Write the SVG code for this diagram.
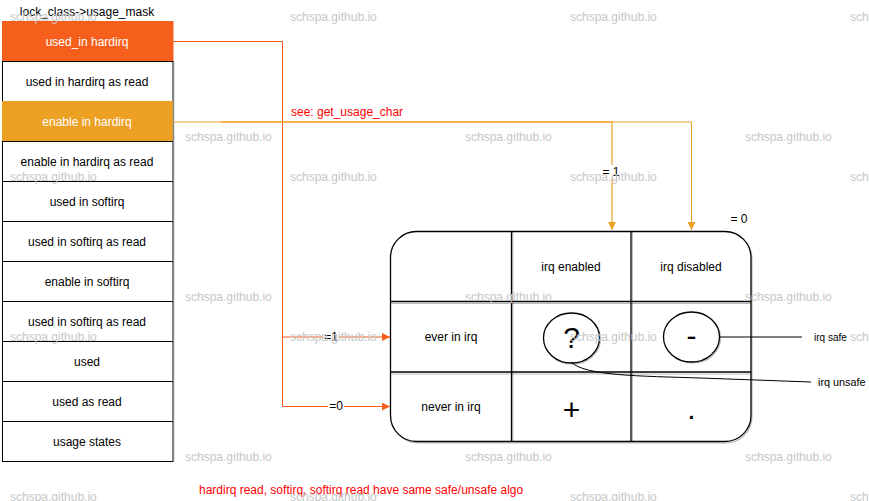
<svg xmlns="http://www.w3.org/2000/svg" width="869" height="501" viewBox="0 0 869 501">
<style>
text{font-family:"Liberation Sans",Helvetica,Arial,sans-serif;font-size:12px;fill:#000}
.c{text-anchor:middle;dominant-baseline:central}
.w{fill:#fff}
.red{fill:#ff0000}
.wm{fill:#c6c6c6;dominant-baseline:central}
.cell{fill:#fff;stroke:#000;stroke-width:1}
.sk{fill:none;stroke:#000;stroke-width:1.3}
.sk2{fill:none;stroke:#000;stroke-opacity:0.28;stroke-width:1.2}
.big{font-size:30px;text-anchor:middle}
.lbl{fill:#fff}
</style>
<defs>
<marker id="ar" viewBox="0 0 10 10" refX="10" refY="5" markerWidth="8" markerHeight="8" markerUnits="userSpaceOnUse" orient="auto"><path d="M0,0 L10,5 L0,10 z" fill="#F65F1B"/></marker>
<marker id="ao" viewBox="0 0 10 10" refX="10" refY="5" markerWidth="8" markerHeight="8" markerUnits="userSpaceOnUse" orient="auto"><path d="M0,0 L10,5 L0,10 z" fill="#EDA124"/></marker>
</defs>
<rect width="869" height="501" fill="#fff"/>

<g id="title"><text x="87" y="12" class="c">lock_class-&gt;usage_mask</text></g>

<g id="usage_mask">
<g id="r1"><rect x="2.5" y="21.5" width="170.5" height="40" fill="#F65F1B" stroke="#F65F1B"/><text x="87" y="41.5" class="c w">used_in hardirq</text></g>
<g id="r2"><rect x="2.5" y="61.5" width="170.5" height="40" class="cell"/><text x="87" y="81.5" class="c">used in hardirq as read</text></g>
<g id="r3"><rect x="2.5" y="101.5" width="170.5" height="40" fill="#EDA124" stroke="#EDA124"/><text x="87" y="121.5" class="c w">enable in hardirq</text></g>
<g id="r4"><rect x="2.5" y="141.5" width="170.5" height="40" class="cell"/><text x="87" y="161.5" class="c">enable in hardirq as read</text></g>
<g id="r5"><rect x="2.5" y="181.5" width="170.5" height="40" class="cell"/><text x="87" y="201.5" class="c">used in softirq</text></g>
<g id="r6"><rect x="2.5" y="221.5" width="170.5" height="40" class="cell"/><text x="87" y="241.5" class="c">used in softirq as read</text></g>
<g id="r7"><rect x="2.5" y="261.5" width="170.5" height="40" class="cell"/><text x="87" y="281.5" class="c">enable in softirq</text></g>
<g id="r8"><rect x="2.5" y="301.5" width="170.5" height="40" class="cell"/><text x="87" y="321.5" class="c">used in softirq as read</text></g>
<g id="r9"><rect x="2.5" y="341.5" width="170.5" height="40" class="cell"/><text x="87" y="361.5" class="c">used</text></g>
<g id="r10"><rect x="2.5" y="381.5" width="170.5" height="40" class="cell"/><text x="87" y="401.5" class="c">used as read</text></g>
<g id="r11"><rect x="2.5" y="421.5" width="170.5" height="40" class="cell"/><text x="87" y="441.5" class="c">usage states</text></g>
<line x1="173.5" y1="62" x2="173.5" y2="461.5" stroke="#888" stroke-width="1.5"/>
</g>

<g id="table">
<rect x="392" y="233" width="360" height="210" rx="26" class="sk2"/>
<rect x="390.5" y="231.5" width="360.5" height="210" rx="26" class="sk" style="fill:#fff"/>
<line x1="391" y1="301.5" x2="751" y2="301.5" class="sk"/>
<line x1="391" y1="303.5" x2="751" y2="303.5" class="sk2"/>
<line x1="391" y1="372" x2="751" y2="372" class="sk"/>
<line x1="391" y1="374" x2="751" y2="374" class="sk2"/>
<line x1="511.5" y1="231.5" x2="511.5" y2="441.5" class="sk"/>
<line x1="512.8" y1="232" x2="512.8" y2="442" class="sk2"/>
<line x1="631" y1="231.5" x2="631" y2="441.5" class="sk"/>
<line x1="632.3" y1="232" x2="632.3" y2="442" class="sk2"/>
<g id="irq_enabled"><text x="571" y="267" class="c">irq enabled</text></g>
<g id="irq_disabled"><text x="691" y="267" class="c">irq disabled</text></g>
<g id="ever_in_irq"><text x="451" y="337" class="c">ever in irq</text></g>
<g id="never_in_irq"><text x="451" y="407" class="c">never in irq</text></g>
<g id="q">
<ellipse cx="572.5" cy="339" rx="28" ry="25" class="sk2"/>
<ellipse cx="571.5" cy="338" rx="28" ry="25" class="sk" style="fill:#fff"/>
<text x="571.5" y="348" class="big">?</text>
</g>
<g id="minus">
<ellipse cx="692.5" cy="338" rx="28" ry="25" class="sk2"/>
<ellipse cx="691.5" cy="337" rx="28" ry="25" class="sk" style="fill:#fff"/>
<text x="691.5" y="346" class="big">-</text>
</g>
<g id="plus"><text x="571.5" y="420" class="big">+</text></g>
<g id="dot"><text x="691.5" y="419" class="big">.</text></g>
</g>

<g id="connectors" fill="none">
<path d="M173,41.5 H282.5 V406.5 H390" stroke="#F65F1B" marker-end="url(#ar)"/>
<path d="M282.5,337 H390" stroke="#F65F1B" marker-end="url(#ar)"/>
<path d="M173,122 H691.5 V230" stroke="#EDA124" marker-end="url(#ao)"/>
<path d="M221,122 H612 V230" stroke="#EDA124" stroke-width="2" stroke-opacity="0.6" marker-end="url(#ao)"/>
<path d="M720,337 H802" stroke="#000"/>
<path d="M571,362 C585,376 640,376 700,378 L811,382" stroke="#000"/>
<rect x="323" y="330" width="16" height="13" class="lbl"/>
<text x="331" y="337" class="c">=1</text>
<rect x="328" y="399" width="16" height="13" class="lbl"/>
<text x="336" y="406" class="c">=0</text>
<rect x="603" y="165" width="18" height="13" class="lbl"/>
<text x="611" y="172" class="c">= 1</text>
<text x="739" y="219" class="c">= 0</text>
</g>

<g id="notes">
<text x="814" y="337" dominant-baseline="central" style="font-size:10px">irq safe</text>
<text x="818" y="382" dominant-baseline="central" style="font-size:10.8px">irq unsafe</text>
<text x="291" y="112" dominant-baseline="central" class="red">see: get_usage_char</text>
<text x="199" y="490" dominant-baseline="central" class="red">hardirq read, softirq, softirq read have same safe/unsafe algo</text>
</g>

<g id="watermarks">
<text x="10" y="17" class="wm">schspa.github.io</text>
<text x="290" y="17" class="wm">schspa.github.io</text>
<text x="570" y="17" class="wm">schspa.github.io</text>
<text x="850" y="17" class="wm">schspa.github.io</text>
<text x="185" y="137" class="wm">schspa.github.io</text>
<text x="465" y="137" class="wm">schspa.github.io</text>
<text x="745" y="137" class="wm">schspa.github.io</text>
<text x="10" y="177" class="wm">schspa.github.io</text>
<text x="290" y="177" class="wm">schspa.github.io</text>
<text x="570" y="177" class="wm">schspa.github.io</text>
<text x="850" y="177" class="wm">schspa.github.io</text>
<text x="185" y="297" class="wm">schspa.github.io</text>
<text x="465" y="297" class="wm">schspa.github.io</text>
<text x="745" y="297" class="wm">schspa.github.io</text>
<text x="10" y="337" class="wm">schspa.github.io</text>
<text x="290" y="337" class="wm">schspa.github.io</text>
<text x="570" y="337" class="wm">schspa.github.io</text>
<text x="850" y="337" class="wm">schspa.github.io</text>
<text x="185" y="457" class="wm">schspa.github.io</text>
<text x="465" y="457" class="wm">schspa.github.io</text>
<text x="745" y="457" class="wm">schspa.github.io</text>
<text x="10" y="497" class="wm">schspa.github.io</text>
<text x="290" y="497" class="wm">schspa.github.io</text>
<text x="570" y="497" class="wm">schspa.github.io</text>
<text x="850" y="497" class="wm">schspa.github.io</text>
</g>
</svg>
